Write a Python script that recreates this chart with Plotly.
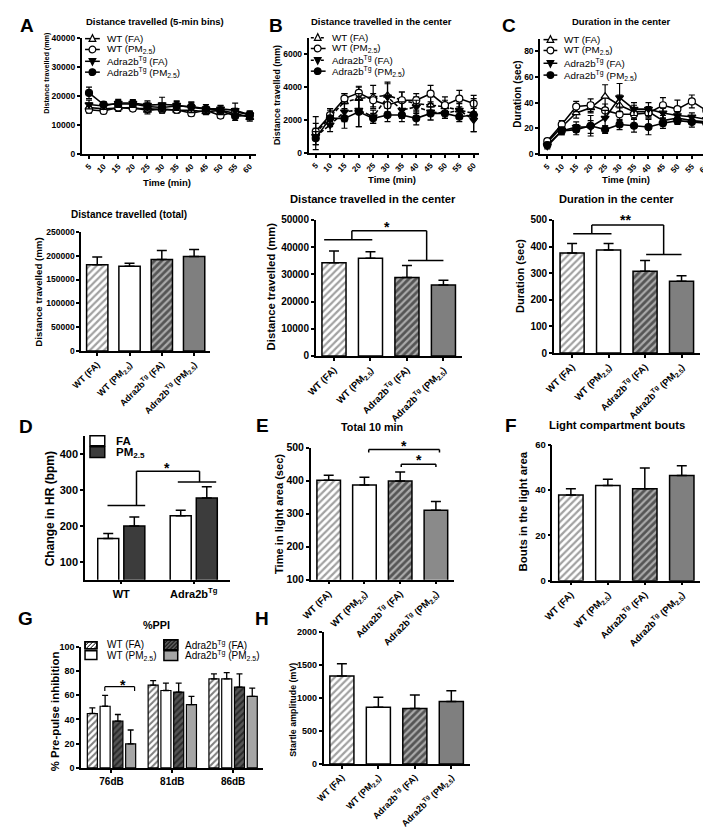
import plotly.graph_objects as go

W, H = 711, 830
FONT = "Liberation Sans"

# ---------------- data ----------------
time_min = [5, 10, 15, 20, 25, 30, 35, 40, 45, 50, 55, 60]
group_labels = ["WT (FA)", "WT (PM<sub>2.5</sub>)", "Adra2b<sup>Tg</sup> (FA)",
                "Adra2b<sup>Tg</sup> (PM<sub>2.5</sub>)"]
genotype_labels = ["WT", "Adra2b<sup>Tg</sup>"]
ppi_labels = ["76dB", "81dB", "86dB"]

# A (top): distance travelled in 5-min bins (mm)
distA_wt_fa = [16000, 15500, 15800, 16000, 15000, 15500, 15000, 15000, 14500, 15000, 14000, 12500]
distA_wt_fa_err = [1500, 1000, 1200, 1000, 1200, 1300, 1000, 1200, 1000, 1000, 1200, 1200]
distA_wt_pm = [15200, 14800, 16000, 15600, 15600, 15200, 15200, 14000, 15000, 13200, 14500, 13500]
distA_wt_pm_err = [1200, 900, 1000, 1000, 1200, 1200, 1000, 1000, 1200, 1000, 1200, 1000]
distA_tg_fa = [17000, 16500, 17500, 17500, 16800, 17000, 16800, 16000, 15500, 15500, 15000, 13500]
distA_tg_fa_err = [1500, 1200, 1300, 1200, 1500, 2500, 1500, 1800, 1500, 1200, 2500, 1200]
distA_tg_pm = [21000, 17000, 17200, 17200, 16300, 16000, 16500, 16300, 15500, 15000, 13000, 13200]
distA_tg_pm_err = [2000, 1000, 1200, 1200, 1500, 1500, 1500, 1500, 1500, 1500, 1500, 1500]

# B (top): distance travelled in the center (mm)
distB_wt_fa = [1200, 2200, 3100, 3300, 3400, 3500, 3200, 3000, 2900, 2800, 2600, 2400]
distB_wt_fa_err = [1000, 500, 500, 700, 700, 700, 500, 400, 500, 400, 500, 400]
distB_wt_pm = [1300, 2300, 3300, 3650, 3200, 2900, 3200, 3200, 3600, 2900, 3300, 3000]
distB_wt_pm_err = [500, 400, 300, 400, 400, 600, 500, 400, 500, 500, 500, 500]
distB_tg_fa = [1000, 1700, 2500, 2600, 2200, 3400, 2600, 2800, 2500, 2400, 2600, 2000]
distB_tg_fa_err = [500, 400, 600, 1000, 400, 900, 500, 400, 500, 300, 400, 700]
distB_tg_pm = [900, 2100, 2100, 2500, 2100, 2300, 2300, 2100, 2400, 2400, 2200, 2300]
distB_tg_pm_err = [400, 500, 600, 900, 300, 400, 400, 400, 400, 300, 300, 1000]

# C (top): duration in the center (sec)
durC_wt_fa = [9, 21, 32, 36, 45, 38, 33, 33, 26, 28, 26, 25]
durC_wt_fa_err = [2, 3, 4, 4, 9, 8, 5, 4, 4, 4, 3, 3]
durC_wt_pm = [10, 23, 37, 38, 34, 31, 31, 32, 38, 35, 41, 34]
durC_wt_pm_err = [2, 3, 4, 5, 5, 5, 4, 4, 6, 7, 5, 5]
durC_tg_fa = [6, 18, 21, 21, 28, 44, 35, 35, 32, 30, 29, 27]
durC_tg_fa_err = [2, 3, 4, 5, 6, 11, 5, 5, 4, 3, 3, 3]
durC_tg_pm = [7, 18, 19, 22, 19, 23, 22, 21, 24, 26, 25, 24]
durC_tg_pm_err = [2, 3, 4, 8, 3, 4, 5, 6, 4, 3, 4, 3]

# bar panels
total_dist = [181000, 178000, 192000, 198000]
total_dist_err = [16000, 6000, 19000, 15000]
center_dist = [34300, 35950, 28850, 26060]
center_dist_err = [4300, 2400, 4450, 1800]
center_dur = [376, 387, 307, 270]
center_dur_err = [36, 25, 41, 20]
hr_fa = [165, 229]
hr_fa_err = [14, 15]
hr_pm = [200, 278]
hr_pm_err = [25, 32]
light_time = [401, 387, 399, 310]
light_time_err = [15, 23, 27, 27]
light_bouts = [37.8, 42.0, 40.6, 46.4]
light_bouts_err = [2.8, 2.7, 9.1, 4.3]
ppi_wt_fa = [44.9, 68.3, 73.5]
ppi_wt_fa_err = [4.6, 3.8, 4.1]
ppi_wt_pm = [50.9, 63.9, 73.5]
ppi_wt_pm_err = [9.0, 6.0, 5.1]
ppi_tg_fa = [38.6, 62.6, 66.7]
ppi_tg_fa_err = [5.5, 7.3, 10.9]
ppi_tg_pm = [19.9, 52.2, 59.0]
ppi_tg_pm_err = [11.4, 6.8, 6.9]
startle = [1333, 861, 840, 945]
startle_err = [185, 149, 205, 164]

# ---------------- helpers ----------------
def fx(p):
    return p / W


def fy(p):
    return 1 - p / H


fig = go.Figure()
layout = dict(width=W, height=H, margin=dict(l=0, r=0, t=0, b=0),
              paper_bgcolor="white", plot_bgcolor="white", showlegend=False,
              barmode="overlay")
shapes = []
annotations = []


def axis_base(size):
    return dict(showline=True, linecolor="black", linewidth=1.5, ticks="outside",
                ticklen=3, tickwidth=1.5, tickcolor="black", showgrid=False,
                zeroline=False, fixedrange=True,
                tickfont=dict(family=FONT, size=size, color="black", weight="bold"))


def setup_axes(n, x0, x1, y0, y1, xr, yr, ytickvals, ysize, xsize, xangle=-45, xextra=None):
    xa = axis_base(xsize)
    xa.update(domain=[fx(x0), fx(x1)], range=xr, anchor=f"y{n}", tickangle=xangle)
    if xextra:
        xa.update(xextra)
    ya = axis_base(ysize)
    ya.update(domain=[fy(y1), fy(y0)], range=yr, anchor=f"x{n}", tickvals=ytickvals,
              tickformat="d")
    layout["xaxis" if n == 1 else f"xaxis{n}"] = xa
    layout["yaxis" if n == 1 else f"yaxis{n}"] = ya


def ann(text, x, y, size, bold=True, angle=0, xanchor="center"):
    annotations.append(dict(text=text, x=fx(x), y=fy(y), xref="paper", yref="paper",
                            showarrow=False, textangle=angle, xanchor=xanchor, yanchor="middle",
                            font=dict(family=FONT, size=size, color="black",
                                      weight="bold" if bold else "normal")))


def seg(n, x0, y0, x1, y1, w=1.5):
    shapes.append(dict(type="line", xref=f"x{n}", yref=f"y{n}", x0=x0, y0=y0, x1=x1, y1=y1,
                       line=dict(color="black", width=w)))


def pline(x0, y0, x1, y1, w=1.5, dash="solid"):
    shapes.append(dict(type="line", xref="paper", yref="paper", x0=fx(x0), y0=fy(y0),
                       x1=fx(x1), y1=fy(y1), line=dict(color="black", width=w, dash=dash)))


def prect(x0, y0, x1, y1, fill, w=1.5):
    shapes.append(dict(type="rect", xref="paper", yref="paper", x0=fx(x0), y0=fy(y1),
                       x1=fx(x1), y1=fy(y0), fillcolor=fill, line=dict(color="black", width=w)))


def hatch_box(x0, y0, x1, y1, fill, step=4.0):
    prect(x0, y0, x1, y1, fill)
    c = x0 + y0 + step
    while c < x1 + y1:
        xs = max(x0, c - y1)
        xe = min(x1, c - y0)
        if xe > xs:
            pline(xs, c - xs, xe, c - xe, w=1)
        c += step
    prect(x0, y0, x1, y1, "rgba(0,0,0,0)")


def leg_marker(kind, cx, cy, r=3.4):
    if kind.startswith("circle"):
        fill = "white" if kind.endswith("open") else "black"
        shapes.append(dict(type="circle", xref="paper", yref="paper",
                           x0=fx(cx - r), x1=fx(cx + r), y0=fy(cy + r), y1=fy(cy - r),
                           fillcolor=fill, line=dict(color="black", width=1.2)))
    else:
        if kind == "tri_up":
            pts = [(cx, cy - r - 0.6), (cx - r, cy + r - 0.6), (cx + r, cy + r - 0.6)]
            fill = "white"
        else:
            pts = [(cx, cy + r + 0.6), (cx - r, cy - r + 0.6), (cx + r, cy - r + 0.6)]
            fill = "black"
        path = "M " + " L ".join(f"{fx(px):.5f},{fy(py):.5f}" for px, py in pts) + " Z"
        shapes.append(dict(type="path", xref="paper", yref="paper", path=path,
                           fillcolor=fill, line=dict(color="black", width=1.2)))


# ---------------- top row: line charts ----------------
sym = [("triangle-up", "white"), ("circle", "white"), ("triangle-down", "black"), ("circle", "black")]
leg_kinds = ["tri_up", "circle_open", "tri_down", "circle_filled"]
top_panels = [
    (1, [(distA_wt_fa, distA_wt_fa_err), (distA_wt_pm, distA_wt_pm_err),
         (distA_tg_fa, distA_tg_fa_err), (distA_tg_pm, distA_tg_pm_err)],
     ["solid"] * 4),
    (2, [(distB_wt_fa, distB_wt_fa_err), (distB_wt_pm, distB_wt_pm_err),
         (distB_tg_fa, distB_tg_fa_err), (distB_tg_pm, distB_tg_pm_err)],
     ["dash", "solid", "dash", "solid"]),
    (3, [(durC_wt_fa, durC_wt_fa_err), (durC_wt_pm, durC_wt_pm_err),
         (durC_tg_fa, durC_tg_fa_err), (durC_tg_pm, durC_tg_pm_err)],
     ["solid"] * 4),
]
for n, series, dashes in top_panels:
    for (vals, errs), (s, fill), dash in zip(series, sym, dashes):
        fig.add_trace(go.Scatter(
            x=time_min, y=vals, mode="lines+markers", xaxis=f"x{n}", yaxis=f"y{n}",
            line=dict(color="black", width=1.6, dash="4px,2px" if dash == "dash" else "solid"),
            marker=dict(symbol=s, size=7, color=fill, line=dict(color="black", width=1.2)),
            error_y=dict(type="data", array=errs, color="black", thickness=1.2, width=3),
            cliponaxis=False))

xtop = dict(tickvals=time_min, ticktext=[str(t) for t in time_min])
setup_axes(1, 64.6, 241, 24, 142, [2.5, 62], [0, 40000], [0, 10000, 20000, 30000, 40000], 8.5, 8, xextra=xtop)
setup_axes(2, 294.7, 468, 24, 141, [2.5, 62], [0, 7000], [0, 2000, 4000, 6000], 8.5, 8, xextra=xtop)
setup_axes(3, 529.5, 704, 25, 142, [2.5, 62], [0, 90], [0, 20, 40, 60, 80], 8.5, 8, xextra=xtop)

# legends for top row
for (mx, lx0, lx1, tx, ys, dashes) in [
        (75.5, 68, 83, 88, [25, 36, 48, 59], ["solid"] * 4),
        (304, 297, 312, 316, [24, 35, 47, 58], ["dash", "solid", "dash", "solid"]),
        (540, 533, 547, 552, [26, 37, 50, 62], ["solid"] * 4)]:
    for kind, yy, dash, lab in zip(leg_kinds, ys, dashes, group_labels):
        pline(lx0, yy, lx1, yy, w=1.5, dash="3px,2px" if dash == "dash" else "solid")
        leg_marker(kind, mx, yy)
        ann(lab, tx, yy, 9.8, bold=False, xanchor="left")

# ---------------- 4-bar panels ----------------
def bar4(n, vals, errs, gray, dark="#555555", width=0.66):
    colors = ["white", "white", dark, gray]
    fig.add_trace(go.Bar(
        x=group_labels, y=vals, width=width, xaxis=f"x{n}", yaxis=f"y{n}",
        marker=dict(color=colors, line=dict(color="black", width=1.5),
                    pattern=dict(shape=["/", "", "/", ""], fgcolor="black", bgcolor=colors,
                                 size=5, solidity=0.45)),
        error_y=dict(type="data", array=errs, arrayminus=[0] * len(errs), symmetric=False,
                     color="black", thickness=1.5, width=5)))


bar4(4, total_dist, total_dist_err, "#7f7f7f")
bar4(5, center_dist, center_dist_err, "#7f7f7f")
bar4(6, center_dur, center_dur_err, "#7f7f7f")
bar4(8, light_time, light_time_err, "#8a8a8a")
bar4(9, light_bouts, light_bouts_err, "#7f7f7f")
bar4(11, startle, startle_err, "#7f7f7f")

setup_axes(4, 64, 195, 221, 342, [-0.5, 3.5], [0, 250000],
           [0, 50000, 100000, 150000, 200000, 250000], 8.5, 9)
setup_axes(5, 302, 450, 209, 347, [-0.5, 3.5], [0, 50000],
           [0, 10000, 20000, 30000, 40000, 50000], 10, 9.5)
setup_axes(6, 543.5, 691.5, 209, 344, [-0.5, 3.5], [0, 500],
           [0, 100, 200, 300, 400, 500], 10, 9.5)
setup_axes(8, 297, 442, 440, 574, [-0.5, 3.5], [100, 500],
           [100, 200, 300, 400, 500], 10.5, 9.5)
setup_axes(9, 542, 692, 437, 575, [-0.5, 3.5], [0, 60], [0, 20, 40, 60], 9.5, 9.5)
setup_axes(11, 310, 458, 627, 761, [-0.5, 3.5], [0, 2000],
           [0, 500, 1000, 1500, 2000], 9, 9)

# ---------------- D: heart rate ----------------
for vals, errs, fill, off in [(hr_fa, hr_fa_err, "white", -0.325),
                              (hr_pm, hr_pm_err, "#3c3c3c", 0.035)]:
    fig.add_trace(go.Bar(
        x=genotype_labels, y=vals, width=0.29, offset=off, xaxis="x7", yaxis="y7",
        marker=dict(color=fill, line=dict(color="black", width=1.5)),
        error_y=dict(type="data", array=errs, arrayminus=[0] * len(errs), symmetric=False,
                     color="black", thickness=1.5, width=5)))
setup_axes(7, 68, 215, 428, 574, [-0.5, 1.5], [50, 452], [100, 200, 300, 400], 11, 11, xangle=0)

# ---------------- G: PPI ----------------
ppi_series = [(ppi_wt_fa, ppi_wt_fa_err, "white", "/"), (ppi_wt_pm, ppi_wt_pm_err, "white", ""),
              (ppi_tg_fa, ppi_tg_fa_err, "#555555", "/"), (ppi_tg_pm, ppi_tg_pm_err, "#a6a6a6", "")]
for (vals, errs, fill, pat), c in zip(ppi_series, [-0.315, -0.105, 0.105, 0.315]):
    fig.add_trace(go.Bar(
        x=ppi_labels, y=vals, width=0.165, offset=c - 0.0825, xaxis="x10", yaxis="y10",
        marker=dict(color=fill, line=dict(color="black", width=1.2),
                    pattern=dict(shape=pat, fgcolor="black", bgcolor=fill, size=4.5, solidity=0.45)),
        error_y=dict(type="data", array=errs, arrayminus=[0] * len(errs), symmetric=False,
                     color="black", thickness=1.3, width=3)))
setup_axes(10, 64, 249, 642, 765, [-0.5, 2.5], [0, 100], [0, 20, 40, 60, 80, 100], 9, 10, xangle=0)

# ---------------- significance brackets ----------------
seg(5, -0.27, 42700, 1.05, 42700)
seg(5, 0.49, 42700, 0.49, 46000)
seg(5, 0.49, 46000, 2.54, 46000)
seg(5, 2.54, 46000, 2.54, 35100)
seg(5, 2.03, 35100, 3.0, 35100)

seg(6, 0.03, 448, 1.08, 448)
seg(6, 0.54, 448, 0.54, 481)
seg(6, 0.54, 481, 2.51, 481)
seg(6, 2.51, 481, 2.51, 370)
seg(6, 2.03, 370, 3.0, 370)

seg(7, -0.19, 257, 0.33, 257)
seg(7, 0.21, 257, 0.21, 353)
seg(7, 0.21, 353, 1.08, 353)
seg(7, 1.08, 353, 1.08, 323)
seg(7, 0.78, 323, 1.31, 323)

seg(8, 1.12, 494, 3.1, 494)
seg(8, 1.12, 494, 1.12, 485)
seg(8, 3.1, 494, 3.1, 485)
seg(8, 2.03, 450, 3.0, 450)
seg(8, 2.03, 450, 2.03, 441)
seg(8, 3.0, 450, 3.0, 441)

seg(10, -0.11, 67, 0.38, 67, w=1.2)
seg(10, -0.11, 67, -0.11, 63.5, w=1.2)
seg(10, 0.38, 67, 0.38, 63.5, w=1.2)

for sx, sy, st in [(374, 212, "*"), (616, 205, "**"), (151, 457, "*"),
                   (392, 434, "*"), (407, 449, "*"), (106, 677, "*")]:
    ann(st, sx, sy + 4, 14)

# ---------------- legends D and G ----------------
prect(73, 428, 88, 438, "white")
prect(73, 439, 88, 450, "#3c3c3c")
ann("FA", 97, 433, 11.5, xanchor="left")
ann("PM<sub>2.5</sub>", 97, 445, 11.5, xanchor="left")

hatch_box(68, 637, 80, 644, "white")
prect(68, 646, 80, 655, "white")
hatch_box(148, 635, 162, 645, "#555555")
prect(148, 646, 162, 656, "#a6a6a6")
ann("WT (FA)", 88, 640, 10, bold=False, xanchor="left")
ann("WT (PM<sub>2.5</sub>)", 88, 651, 10, bold=False, xanchor="left")
ann("Adra2b<sup>Tg</sup> (FA)", 167, 640, 10, bold=False, xanchor="left")
ann("Adra2b<sup>Tg</sup> (PM<sub>2.5</sub>)", 167, 651, 10, bold=False, xanchor="left")

# ---------------- titles and labels ----------------
for letter, x, y in [("A", 9, 12), ("B", 262, 12), ("C", 498, 12), ("D", 8, 419),
                     ("E", 248, 418), ("F", 500, 418), ("G", 8, 613), ("H", 247, 613)]:
    ann(letter, x, y, 19)

for text, x, y, s in [("Distance travelled (5-min bins)", 139, 8, 9.5),
                      ("Distance travelled in the center", 369, 8, 9.5),
                      ("Duration in the center", 612, 8, 9.5),
                      ("Distance travelled (total)", 113, 203, 10),
                      ("Distance travelled in the center", 360, 188, 11.2),
                      ("Duration in the center", 607, 188, 11.1),
                      ("Total 10 min", 359, 419, 10.8),
                      ("Light compartment bouts", 608, 417, 11.3),
                      ("%PPI", 140, 620, 10.8),
                      ("Time (min)", 151, 171, 9.5),
                      ("Time (min)", 379, 168, 9.5),
                      ("Time (min)", 617, 168, 9.5)]:
    ann(text, x, y, s)

for text, x, y, s in [("Distance travelled (mm)", 29, 60, 7.2),
                      ("Distance travelled (mm)", 263, 82, 8.9),
                      ("Duration (sec)", 507, 81, 10),
                      ("Distance travelled (mm)", 21, 282, 9.7),
                      ("Distance travelled (mm)", 257, 276, 11.3),
                      ("Duration (sec)", 509, 266, 11),
                      ("Change in HR (bpm)", 32, 502, 12),
                      ("Time in light area (sec)", 264, 507, 11.1),
                      ("Bouts in the light area", 512, 505, 11.4),
                      ("% Pre-pulse inhibition", 37, 707, 11.4),
                      ("Startle amplitude (mV)", 279, 706, 8.9)]:
    ann(text, x, y, s, angle=-90)

layout["shapes"] = shapes
layout["annotations"] = annotations
fig.update_layout(**layout)
fig.write_html("out.html")
